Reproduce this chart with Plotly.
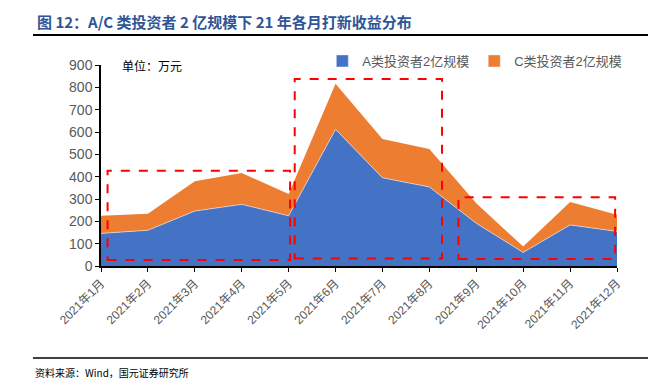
import plotly.graph_objects as go

months = ["2021年1月", "2021年2月", "2021年3月", "2021年4月", "2021年5月", "2021年6月",
          "2021年7月", "2021年8月", "2021年9月", "2021年10月", "2021年11月", "2021年12月"]
a_vals = [146, 160, 246, 276, 225, 612, 395, 354, 191, 61, 184, 155]
c_vals = [79, 74, 134, 140, 97, 204, 174, 170, 90, 26, 103, 75]
y_ticks = [0, 100, 200, 300, 400, 500, 600, 700, 800, 900]
# highlight boxes: (x0, x1, y0, y1) in month index / value units
boxes = [(0.14, 4.03, 27, 427), (4.13, 7.27, 34, 837), (7.62, 10.96, 31, 308)]

BLUE = "#4472C4"
ORANGE = "#ED7D31"

xs = list(range(len(months)))
fig = go.Figure()
fig.add_trace(go.Scatter(x=xs, y=a_vals, name="A类投资者2亿规模", stackgroup="s",
                         mode="lines", line=dict(width=0.6, color="#E8EEF8"),
                         fillcolor=BLUE, showlegend=False))
fig.add_trace(go.Scatter(x=xs, y=c_vals, name="C类投资者2亿规模", stackgroup="s",
                         mode="lines", line=dict(width=0, color=ORANGE),
                         fillcolor=ORANGE, showlegend=False))
# legend entries with square swatches
fig.add_trace(go.Bar(x=[None], y=[None], name="A类投资者2亿规模", marker_color=BLUE))
fig.add_trace(go.Bar(x=[None], y=[None], name="C类投资者2亿规模", marker_color=ORANGE))

for x0, x1, y0, y1 in boxes:
    fig.add_shape(type="rect", xref="x", yref="y", x0=x0, x1=x1, y0=y0, y1=y1,
                  line=dict(color="#FF0000", width=2, dash="dash"), fillcolor="rgba(0,0,0,0)")

# page body has an 8px offset; margins compensate so plot area sits at x 101-617, y 65-266
OFF = 8
fig.update_layout(
    width=656, height=389,
    margin=dict(l=101 - OFF, r=39 + OFF, t=65 - OFF, b=123 + OFF, autoexpand=False),
    paper_bgcolor="white", plot_bgcolor="white",
    font=dict(family="Liberation Sans, Noto Sans CJK SC", color="#595959"),
    showlegend=True,
    legend=dict(orientation="h", x=1.02, xanchor="right", y=1.02, yanchor="middle",
                font=dict(size=13, color="#595959", family="Liberation Sans, Noto Sans CJK SC"),
                itemwidth=30, traceorder="normal", bgcolor="rgba(0,0,0,0)"),
)
fig.update_xaxes(range=[0, 11], tickvals=xs, ticktext=months, tickangle=-45, automargin=False,
                 showgrid=False, zeroline=False, showline=True, linecolor="#000000", linewidth=1.5,
                 ticks="outside", ticklen=4, tickcolor="#000000",
                 tickfont=dict(size=12, color="#595959"))
fig.update_yaxes(range=[0, 900], tickvals=y_ticks, showgrid=False, zeroline=False, automargin=False,
                 showline=True, linecolor="#000000", linewidth=1.5,
                 ticks="outside", ticklen=4, tickcolor="#000000",
                 tickfont=dict(size=14, color="#595959"))

fig.add_annotation(text="<b>图 12：A/C 类投资者 2 亿规模下 21 年各月打新收益分布</b>",
                   xref="paper", yref="paper", x=(35 - 101) / 516, xanchor="left",
                   y=1 + (65 - 22) / 201, yanchor="middle", showarrow=False,
                   font=dict(size=15, color="#2F5597", family="Noto Sans CJK SC"))
fig.add_annotation(text="单位：万元", xref="paper", yref="paper", x=(120 - 101) / 516, xanchor="left",
                   y=1, yanchor="middle", showarrow=False,
                   font=dict(size=12, color="#000000", family="Noto Sans CJK SC"))
fig.add_annotation(text="资料来源：Wind，国元证券研究所", xref="paper", yref="paper",
                   x=(33 - 101) / 516, xanchor="left", y=-(372 - 266) / 201, yanchor="middle",
                   showarrow=False, font=dict(size=10, color="#000000", family="Noto Sans CJK SC"))
fig.add_shape(type="line", xref="paper", yref="paper", x0=(33 - 101) / 516, x1=(652 - 101) / 516,
              y0=1 + (65 - 35) / 201, y1=1 + (65 - 35) / 201, line=dict(color="#000000", width=2))
fig.add_shape(type="line", xref="paper", yref="paper", x0=(33 - 101) / 516, x1=(652 - 101) / 516,
              y0=-(358 - 266) / 201, y1=-(358 - 266) / 201, line=dict(color="#000000", width=1.5))

fig.write_html("out.html")
